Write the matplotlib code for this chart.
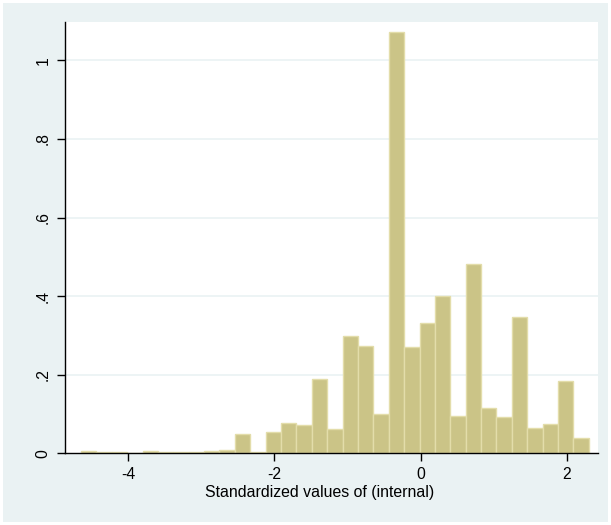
import numpy as np
import matplotlib
matplotlib.use("Agg")
import matplotlib.pyplot as plt
from matplotlib.patches import Rectangle

# Data
bin_start = -4.647
bin_width = 0.2105
densities = [0.006, 0.003, 0.003, 0.0, 0.006, 0.003, 0.003, 0.003, 0.006, 0.009,
             0.048, 0.003, 0.054, 0.078, 0.073, 0.190, 0.062, 0.299, 0.274, 0.100,
             1.071, 0.270, 0.332, 0.401, 0.096, 0.481, 0.115, 0.092, 0.346, 0.065,
             0.075, 0.184, 0.038]
yticks = [0, 0.2, 0.4, 0.6, 0.8, 1.0]
ytick_labels = ["0", ".2", ".4", ".6", ".8", "1"]
xticks = [-4, -2, 0, 2]
xtick_labels = ["-4", "-2", "0", "2"]
xlabel = "Standardized values of (internal)"

plt.rcParams['font.family'] = ['Liberation Sans', 'DejaVu Sans']

W, H = 611, 525
fig = plt.figure(figsize=(W / 100, H / 100), dpi=100, facecolor="white")
bg = "#eaf2f3"
fig.patches.append(Rectangle((3 / W, 3 / H), (W - 6) / W, (H - 6) / H,
                             transform=fig.transFigure, facecolor=bg,
                             edgecolor="none", zorder=-10))

left, right, top, bottom = 64.7, 598, 22, 453.3
ax = fig.add_axes([left / W, (H - bottom) / H, (right - left) / W, (bottom - top) / H])
ax.set_facecolor("white")

edges = bin_start + bin_width * np.arange(len(densities) + 1)
ax.bar(edges[:-1], densities, width=bin_width, align="edge",
       color="#cbc487", edgecolor="#e3ddaa", linewidth=1.0, zorder=2)

ax.set_xlim(-4.870, 2.4254)
ax.set_ylim(0, 1.0975)

ax.set_yticks(yticks)
ax.set_yticklabels(ytick_labels, rotation=90, va="center", fontsize=11.3)
ax.set_xticks(xticks)
ax.set_xticklabels(xtick_labels, fontsize=11.3)
ax.set_xlabel(xlabel, fontsize=11.4)
ax.xaxis.set_label_coords((320 - left) / (right - left), -(493 - bottom) / (bottom - top))
ax.xaxis.label.set_va("center")

for y in yticks[1:]:
    ax.axhline(y, color="#eaf2f3", linewidth=1.2, zorder=1)

for s in ["top", "right"]:
    ax.spines[s].set_visible(False)
for s in ["left", "bottom"]:
    ax.spines[s].set_linewidth(1.0)
    ax.spines[s].set_color("black")
    ax.spines[s].set_zorder(3)
ax.tick_params(axis="both", direction="out", length=6, width=1, color="black",
               labelcolor="black", pad=4)

fig.savefig("out.png", dpi=100, facecolor="white")
